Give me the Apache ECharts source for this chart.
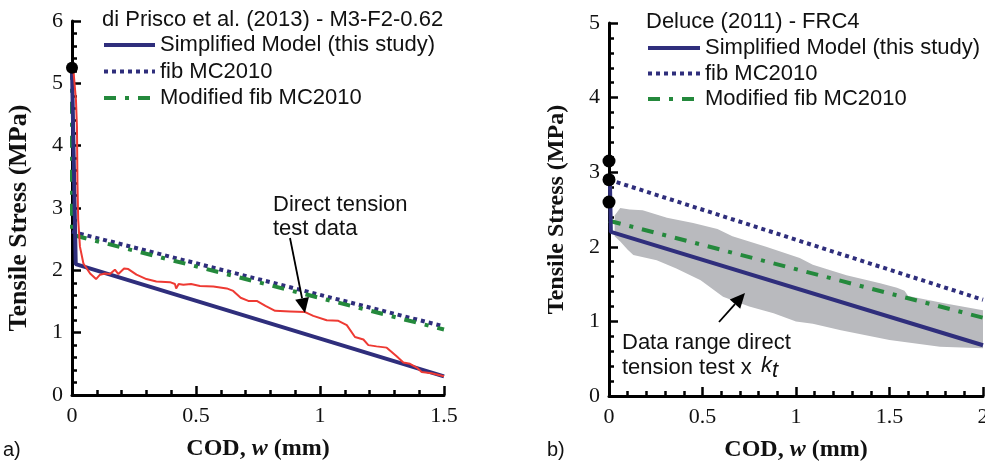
<!DOCTYPE html>
<html>
<head>
<meta charset="utf-8">
<script src="https://cdn.jsdelivr.net/npm/echarts@6/dist/echarts.min.js"></script>
<style>
html, body { margin: 0; padding: 0; background: #fff; }
#chart { width: 985px; height: 468px; }
</style>
</head>
<body>
<div id="chart"></div>
<script>
// ---- panel a) di Prisco et al. (2013) - M3-F2-0.62 ----
const aSimplified = [[0, 5.25], [0.015, 2.1], [1.5, 0.3]];
const aFib = [[0, 2.62], [1.5, 1.1]];
const aModFib = [[0, 5.25], [0, 2.57], [1.5, 1.05]];
const aPeak = [[0, 5.25]];
const aTest = [
    [0.005, 5.24], [0.016, 4.73], [0.02, 4.3], [0.022, 3.4], [0.025, 2.81], [0.032, 2.38],
    [0.046, 2.11], [0.073, 1.95], [0.097, 1.86], [0.113, 1.93], [0.133, 1.95], [0.153, 1.94],
    [0.173, 2.01], [0.187, 1.94], [0.21, 2.03], [0.227, 2.02], [0.26, 1.93], [0.30, 1.86],
    [0.34, 1.82], [0.395, 1.81], [0.415, 1.78], [0.42, 1.71], [0.43, 1.78], [0.449, 1.77],
    [0.48, 1.78], [0.516, 1.75], [0.57, 1.74], [0.624, 1.71], [0.65, 1.67], [0.68, 1.56],
    [0.711, 1.51], [0.745, 1.51], [0.78, 1.43], [0.819, 1.35], [0.879, 1.34], [0.94, 1.33],
    [0.973, 1.27], [1.027, 1.20], [1.074, 1.19], [1.108, 1.12], [1.141, 0.93], [1.175, 0.89],
    [1.195, 0.80], [1.228, 0.78], [1.269, 0.76], [1.309, 0.62], [1.336, 0.52], [1.363, 0.50],
    [1.39, 0.44], [1.41, 0.37], [1.45, 0.35], [1.5, 0.30]
];

// ---- panel b) Deluce (2011) - FRC4 ----
const bSimplified = [[0.005, 2.88], [0.01, 2.2], [2, 0.68]];
const bFib = [[0, 2.9], [2, 1.29]];
const bModFib = [[0, 2.35], [2, 1.05]];
const bPeaks = [[0, 3.15], [0, 2.9], [0, 2.6]];
const bandUpper = [
    [0.03, 2.42], [0.06, 2.52], [0.11, 2.50], [0.18, 2.49], [0.31, 2.39], [0.45, 2.32],
    [0.58, 2.24], [0.66, 2.14], [0.84, 2.00], [1.02, 1.85], [1.09, 1.76], [1.27, 1.62],
    [1.45, 1.51], [1.54, 1.45], [1.58, 1.41], [1.60, 1.34], [1.80, 1.24], [2.0, 1.15]
];
const bandLower = [
    [0.03, 2.14], [0.06, 2.07], [0.10, 1.96], [0.13, 1.89], [0.255, 1.82], [0.36, 1.71],
    [0.49, 1.55], [0.61, 1.33], [0.75, 1.20], [0.88, 1.11], [1.0, 1.0], [1.09, 0.97],
    [1.24, 0.88], [1.50, 0.75], [1.77, 0.66], [2.0, 0.64]
];

const seriesNames = ['Simplified Model (this study)', 'fib MC2010', 'Modified fib MC2010'];

const navy = '#2f2e7c';
const green = '#24893c';
const serif = 'Liberation Serif';
const sans = 'Liberation Sans';

const chart = echarts.init(document.getElementById('chart'));

function xAxis(gridIndex, max) {
    return {
        type: 'value', gridIndex: gridIndex, min: 0, max: max, interval: 0.5,
        axisLine: { onZero: false, lineStyle: { color: '#000', width: 3 } },
        axisTick: { inside: true, length: 9, lineStyle: { color: '#000', width: 2.5 } },
        minorTick: { show: true, splitNumber: 5, length: 5, lineStyle: { color: '#000', width: 2.5 } },
        splitLine: { show: false },
        axisLabel: { fontFamily: serif, fontSize: 22, color: '#111', margin: 10 },
        name: '{b|COD, }{i|w}{b| (mm)}',
        nameLocation: 'middle',
        nameGap: 42,
        nameTextStyle: {
            rich: {
                b: { fontFamily: serif, fontWeight: 'bold', fontSize: 24, color: '#111' },
                i: { fontFamily: serif, fontWeight: 'bold', fontStyle: 'italic', fontSize: 24, color: '#111' }
            }
        }
    };
}

function yAxis(gridIndex, max, gap, size, shift) {
    return {
        type: 'value', gridIndex: gridIndex, min: 0, max: max, interval: 1,
        axisLine: { onZero: false, lineStyle: { color: '#000', width: 3 } },
        axisTick: { inside: true, length: 9, lineStyle: { color: '#000', width: 2.5 } },
        minorTick: { show: true, splitNumber: 5, length: 5, lineStyle: { color: '#000', width: 2.5 } },
        splitLine: { show: false },
        axisLabel: { fontFamily: serif, fontSize: 22, color: '#111', margin: 9 },
        name: 'Tensile Stress (MPa)',
        nameLocation: 'middle',
        nameGap: gap,
        nameTextStyle: { fontFamily: serif, fontWeight: 'bold', fontSize: size, color: '#111', padding: [0, shift, 0, 0] }
    };
}

function modelLines(idx, simp, fib, mod) {
    return [
        {
            name: seriesNames[0], type: 'line', xAxisIndex: idx, yAxisIndex: idx,
            data: simp, symbol: 'none', z: 4,
            lineStyle: { color: navy, width: 4 }, itemStyle: { color: navy }
        },
        {
            name: seriesNames[1], type: 'line', xAxisIndex: idx, yAxisIndex: idx,
            data: fib, symbol: 'none', z: 3,
            lineStyle: { color: navy, width: 4, type: [4, 4], cap: 'butt' }, itemStyle: { color: navy }
        },
        {
            name: seriesNames[2], type: 'line', xAxisIndex: idx, yAxisIndex: idx,
            data: mod, symbol: 'none', z: 3,
            lineStyle: { color: green, width: 4, type: [12, 9, 4, 9], cap: 'butt' }, itemStyle: { color: green }
        }
    ];
}

function arrow(x1, y1, x2, y2) {
    const a = Math.atan2(y2 - y1, x2 - x1);
    const len = 15, half = 7;
    const bx = x2 - len * Math.cos(a), by = y2 - len * Math.sin(a);
    const px = -Math.sin(a) * half, py = Math.cos(a) * half;
    return [
        { type: 'line', shape: { x1: x1, y1: y1, x2: bx, y2: by }, style: { stroke: '#000', lineWidth: 1.8 }, z: 20 },
        { type: 'polygon', shape: { points: [[x2, y2], [bx + px, by + py], [bx - px, by - py]] }, style: { fill: '#000' }, z: 20 }
    ];
}

const textStyle = { fontFamily: sans, fontSize: 22, fill: '#111' };
const legendBase = {
    orient: 'vertical', padding: 0, itemHeight: 14,
    itemStyle: { opacity: 0 },
    lineStyle: { width: 4, cap: 'butt' },
    textStyle: { fontFamily: sans, fontSize: 22, color: '#111' }
};

chart.setOption({
    animation: false,
    title: [
        { text: 'di Prisco et al. (2013) - M3-F2-0.62', left: 102, top: 9, padding: 0,
          textStyle: { fontFamily: sans, fontWeight: 'normal', fontSize: 22, color: '#111' } },
        { text: 'Deluce (2011) - FRC4', left: 646, top: 11, padding: 0,
          textStyle: { fontFamily: sans, fontWeight: 'normal', fontSize: 22, color: '#111' } }
    ],
    legend: [
        Object.assign({ data: seriesNames, left: 102, top: 34, itemWidth: 51, itemGap: 4.5 }, legendBase),
        Object.assign({ data: seriesNames, left: 646, top: 37, itemWidth: 52, itemGap: 3.5 }, legendBase)
    ],
    grid: [
        { left: 72, top: 21, width: 372, height: 374, outerBoundsMode: 'none' },
        { left: 609, top: 23, width: 374, height: 373, outerBoundsMode: 'none' }
    ],
    xAxis: [xAxis(0, 1.5), xAxis(1, 2)],
    yAxis: [yAxis(0, 6, 40, 26, 20), yAxis(1, 5, 40, 24, 0)],
    series: [
        {
            name: 'Direct tension test data', type: 'line', xAxisIndex: 0, yAxisIndex: 0,
            data: aTest, symbol: 'none', z: 5,
            lineStyle: { color: '#ee3a33', width: 2 }
        },
        ...modelLines(0, aSimplified, aFib, aModFib),
        {
            name: 'peak a', type: 'scatter', xAxisIndex: 0, yAxisIndex: 0,
            data: aPeak, symbolSize: 12, itemStyle: { color: '#000', opacity: 1 }, z: 6
        },
        {
            name: 'Data range direct tension test x kt', type: 'custom',
            xAxisIndex: 1, yAxisIndex: 1, z: 1, silent: true,
            data: [[0, 0]],
            renderItem: function (params, api) {
                const pts = bandUpper.concat(bandLower.slice().reverse()).map(function (p) { return api.coord(p); });
                return { type: 'polygon', shape: { points: pts }, style: { fill: '#b9babe' } };
            }
        },
        ...modelLines(1, bSimplified, bFib, bModFib),
        {
            name: 'peaks b', type: 'scatter', xAxisIndex: 1, yAxisIndex: 1,
            data: bPeaks, symbolSize: 13, itemStyle: { color: '#000', opacity: 1 }, z: 6
        }
    ],
    graphic: [
        { type: 'text', left: 273, top: 193, style: Object.assign({ text: 'Direct tension\ntest data', lineHeight: 24 }, textStyle), z: 20 },
        ...arrow(290, 238, 305, 313),
        { type: 'text', left: 622, top: 330, style: Object.assign({ text: 'Data range direct\ntension test x', lineHeight: 25 }, textStyle), z: 20 },
        { type: 'text', left: 761, top: 355, style: Object.assign({ text: 'k', fontStyle: 'italic' }, textStyle), z: 20 },
        { type: 'text', left: 772, top: 360, style: Object.assign({ text: 't', fontStyle: 'italic' }, textStyle), z: 20 },
        ...arrow(719, 322, 745, 293),
        { type: 'text', left: 3, top: 440, style: { text: 'a)', fontFamily: 'Liberation Sans Narrow, Liberation Sans', fontSize: 20, fill: '#111' } },
        { type: 'text', left: 547, top: 440, style: { text: 'b)', fontFamily: 'Liberation Sans Narrow, Liberation Sans', fontSize: 20, fill: '#111' } }
    ]
});
</script>
</body>
</html>
